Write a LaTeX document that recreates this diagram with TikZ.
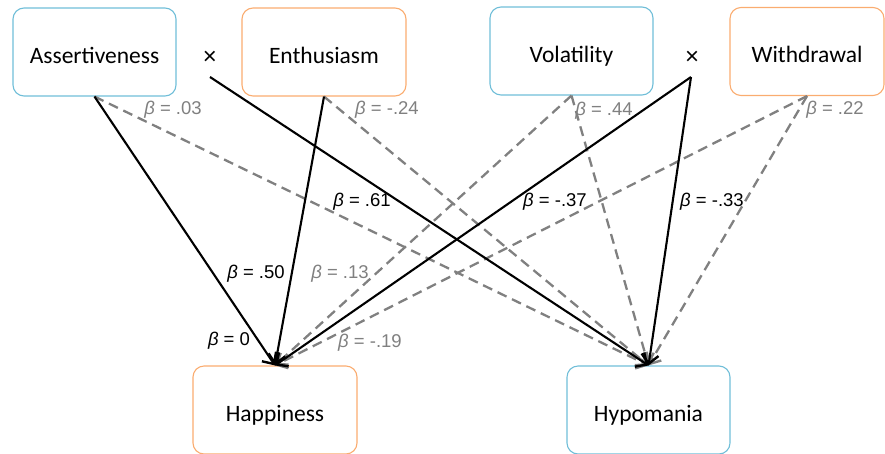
\documentclass[tikz,border=0pt]{standalone}
\usepackage{fontspec}
\setmainfont{Liberation Sans}
\newfontfamily\boxfont{Carlito}
\newfontfamily\labfont{Liberation Sans}
\usetikzlibrary{arrows.meta}
\definecolor{boxblue}{RGB}{112,190,216}
\definecolor{boxorange}{RGB}{250,172,112}
\definecolor{dashgray}{RGB}{128,128,128}
\tikzset{
  varbox/.style={draw, rounded corners=11pt, line width=1.1pt, minimum height=88pt,
    inner sep=0pt, text height=22pt, text depth=0pt, font=\boxfont\fontsize{23.5}{26}\selectfont},
  bluebox/.style={varbox, draw=boxblue},
  orangebox/.style={varbox, draw=boxorange},
  solidpath/.style={line width=2.1pt, black, -{Straight Barb[length=9pt,width=17pt,line width=2.4pt]}},
  dashpath/.style={line width=2.3pt, dashgray, dash pattern=on 10pt off 6pt, -{Straight Barb[length=9pt,width=17pt,line width=2.4pt]}},
  blab/.style={font=\labfont\fontsize{18.5}{21}\selectfont, text=black, inner sep=1pt},
  glab/.style={font=\labfont\fontsize{18.5}{21}\selectfont, text=dashgray, inner sep=1pt},
  timesmark/.style={font=\labfont\fontsize{24}{26}\selectfont, inner sep=0pt}
}
\newcommand{\bet}{\textit{β}}
\begin{document}
\begin{tikzpicture}[x=1pt,y=-1pt]
\useasboundingbox (0,0) rectangle (885,453);
% boxes
\node[bluebox, minimum width=163pt] (assert) at (94.5,52) {Assertiveness};
\node[orangebox, minimum width=164pt] (enth) at (324,52) {Enthusiasm};
\node[bluebox, minimum width=163pt] (vol) at (571.5,51) {Volatility};
\node[orangebox, minimum width=154pt] (withd) at (807,51.5) {Withdrawal};
\node[orangebox, minimum width=164pt] (happy) at (275,410) {Happiness};
\node[bluebox, minimum width=163pt] (hypo) at (648.5,410) {Hypomania};
% interaction marks
\node[timesmark] (xl) at (210,58) {×};
\node[timesmark] (xr) at (692,58) {×};
\coordinate (xlo) at (210,77);
\coordinate (xro) at (691,77);
% dashed paths
\draw[dashpath] (assert.south) -- (hypo.north);
\draw[dashpath] (enth.south) -- (hypo.north);
\draw[dashpath] (vol.south) -- (happy.north);
\draw[dashpath] (vol.south) -- (hypo.north);
\draw[dashpath] (withd.south) -- (happy.north);
\draw[dashpath] (withd.south) -- (hypo.north);
% solid paths
\draw[solidpath] (assert.south) -- (happy.north);
\draw[solidpath] (enth.south) -- (happy.north);
\draw[solidpath] (xlo) -- (hypo.north);
\draw[solidpath] (xro) -- (happy.north);
\draw[solidpath] (xro) -- (hypo.north);
% labels
\node[glab] (l1) at (173,110) {\bet{} = .03};
\node[glab] (l2) at (387,110) {\bet{} = -.24};
\node[glab] (l3) at (604,111) {\bet{} = .44};
\node[glab] (l4) at (835,110) {\bet{} = .22};
\node[blab] (l5) at (362,202) {\bet{} = .61};
\node[blab] (l6) at (555,202) {\bet{} = -.37};
\node[blab] (l7) at (712,202) {\bet{} = -.33};
\node[blab] (l8) at (256,274) {\bet{} = .50};
\node[glab] (l9) at (340,274) {\bet{} = .13};
\node[blab] (l10) at (229,341) {\bet{} = 0};
\node[glab] (l11) at (370,343) {\bet{} = -.19};
\end{tikzpicture}
\end{document}
